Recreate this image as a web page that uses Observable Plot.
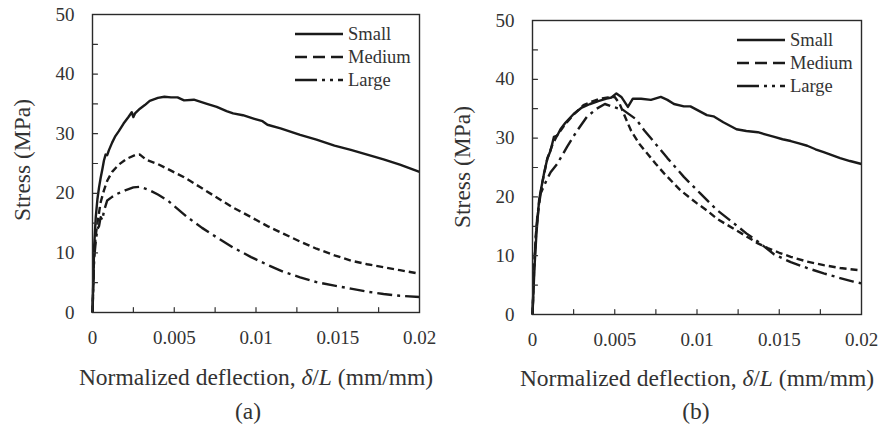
<!DOCTYPE html>
<html>
<head>
<meta charset="utf-8">
<script src="https://cdn.jsdelivr.net/npm/d3@7"></script>
<script src="https://cdn.jsdelivr.net/npm/@observablehq/plot@0.6"></script>
<style>
  html, body { margin: 0; padding: 0; background: #fff; }
  #wrap { position: relative; width: 879px; height: 428px; overflow: hidden; }
  #wrap > div { position: absolute; top: 0; }
  #wrap svg, #wrap svg text, #wrap svg tspan { font-family: "Liberation Serif", "Times New Roman", serif !important; }
</style>
</head>
<body>
<div id="wrap"><div id="pa"></div><div id="pb"></div></div>
<script>
// ---------- data ----------
const seriesNames = ["Small", "Medium", "Large"];
const xTicks = [0, 0.005, 0.01, 0.015, 0.02];
const xMinorTicks = [0.0025, 0.005, 0.0075, 0.01, 0.0125, 0.015, 0.0175];
const yTicks = [0, 10, 20, 30, 40, 50];
const yMinorTicks = [5, 10, 15, 20, 25, 30, 35, 40, 45];

// Panel (a)
const aSmallX = [0, 0.0001, 0.0002, 0.0003, 0.0004, 0.0005, 0.0006, 0.0007, 0.0008, 0.0009, 0.0010, 0.0012, 0.0014, 0.0016, 0.0019, 0.0022, 0.0024, 0.0025, 0.0026, 0.0029, 0.0032, 0.0035, 0.0040, 0.0044, 0.0048, 0.0052, 0.0056, 0.0062, 0.0070, 0.0076, 0.0082, 0.0086, 0.0092, 0.0099, 0.0104, 0.0107, 0.0115, 0.0127, 0.0137, 0.0148, 0.0158, 0.0168, 0.0178, 0.0188, 0.0200];
const aSmallY = [0, 11, 16, 19, 21, 22.6, 24, 25.5, 26.5, 26.4, 27.2, 28.5, 29.6, 30.4, 31.7, 32.8, 33.6, 32.8, 33.4, 34.2, 34.8, 35.5, 36.0, 36.2, 36.1, 36.1, 35.6, 35.7, 35.0, 34.5, 33.8, 33.4, 33.1, 32.5, 32.1, 31.5, 30.9, 29.8, 29.0, 28.0, 27.3, 26.5, 25.7, 24.8, 23.6];
const aMediumX = [0, 0.0001, 0.0002, 0.0003, 0.0005, 0.0007, 0.0009, 0.0012, 0.0016, 0.0021, 0.0026, 0.0029, 0.0033, 0.0040, 0.0048, 0.0056, 0.0066, 0.0076, 0.0086, 0.0097, 0.0107, 0.0117, 0.0127, 0.0137, 0.0148, 0.0158, 0.0168, 0.0178, 0.0188, 0.0200];
const aMediumY = [0, 10, 13, 15, 18.5, 20.5, 22.1, 23.6, 24.8, 25.8, 26.4, 26.5, 25.6, 24.9, 23.8, 22.7, 21.0, 19.3, 17.6, 16.0, 14.5, 13.2, 11.9, 10.7, 9.6, 8.7, 8.1, 7.6, 7.1, 6.5];
const aLargeX = [0, 0.0001, 0.0002, 0.0003, 0.0004, 0.0005, 0.0006, 0.0007, 0.0009, 0.0012, 0.0015, 0.0020, 0.0025, 0.0029, 0.0035, 0.0040, 0.0046, 0.0052, 0.0058, 0.0067, 0.0076, 0.0086, 0.0097, 0.0107, 0.0117, 0.0127, 0.0137, 0.0148, 0.0158, 0.0168, 0.0178, 0.0188, 0.0200];
const aLargeY = [0, 9, 12, 14, 14.5, 16, 15.5, 17, 18.8, 19.4, 19.9, 20.5, 21.0, 21.1, 20.5, 19.8, 18.8, 17.4, 16.0, 14.2, 12.6, 10.9, 9.3, 8.0, 6.8, 5.9, 5.1, 4.5, 4.0, 3.5, 3.1, 2.8, 2.6];

// Panel (b)
const bSmallX = [0, 0.00012, 0.00024, 0.0004, 0.0005, 0.0007, 0.0009, 0.0011, 0.0013, 0.0015, 0.0017, 0.0020, 0.0025, 0.0030, 0.0035, 0.0040, 0.0045, 0.0048, 0.0051, 0.0054, 0.0058, 0.0061, 0.0066, 0.0072, 0.0078, 0.0082, 0.0086, 0.0092, 0.0096, 0.0100, 0.0106, 0.0110, 0.0116, 0.0120, 0.0124, 0.0130, 0.0137, 0.0142, 0.0147, 0.0152, 0.0157, 0.0162, 0.0167, 0.0172, 0.0177, 0.0182, 0.0187, 0.0193, 0.0200];
const bSmallY = [0, 8, 13.8, 19.4, 21, 24, 26.5, 27.9, 30.2, 30.4, 31.5, 32.6, 34.1, 35.2, 35.8, 36.3, 36.7, 36.9, 37.6, 37.0, 35.3, 36.7, 36.7, 36.5, 37.0, 36.5, 35.8, 35.4, 35.4, 34.8, 33.9, 33.7, 32.7, 32.1, 31.5, 31.2, 31.0, 30.6, 30.2, 29.8, 29.5, 29.1, 28.7, 28.1, 27.6, 27.1, 26.6, 26.1, 25.6];
const bMediumX = [0, 0.0001, 0.0002, 0.0004, 0.0006, 0.0009, 0.0012, 0.0015, 0.0020, 0.0025, 0.0031, 0.0036, 0.0041, 0.0046, 0.0050, 0.0053, 0.0056, 0.0060, 0.0065, 0.0070, 0.0075, 0.0080, 0.0090, 0.0100, 0.0106, 0.0112, 0.0118, 0.0124, 0.0130, 0.0137, 0.0143, 0.0150, 0.0157, 0.0167, 0.0177, 0.0187, 0.0200];
const bMediumY = [0, 8, 13.5, 19, 22.5, 26.5, 28.8, 30.5, 32.4, 34.0, 35.6, 36.2, 36.7, 36.9, 37.0, 35.8, 33.8, 31.2, 29.0, 27.3, 25.6, 24.0, 21.1, 18.9, 17.7, 16.3, 15.3, 14.3, 13.3, 12.1, 11.3, 10.5, 9.8, 9.0, 8.4, 7.9, 7.5];
const bLargeX = [0, 0.0001, 0.0002, 0.0003, 0.0005, 0.0008, 0.0011, 0.0015, 0.0021, 0.0027, 0.0033, 0.0039, 0.0044, 0.0048, 0.0055, 0.0063, 0.0068, 0.0074, 0.0082, 0.0092, 0.0102, 0.0112, 0.0122, 0.0130, 0.0137, 0.0147, 0.0157, 0.0167, 0.0177, 0.0187, 0.0195, 0.0200];
const bLargeY = [0, 8, 13, 17, 20.6, 22.5, 24.2, 25.6, 28.5, 31.2, 33.6, 35.0, 35.8, 35.4, 34.8, 33.2, 31.3, 29.3, 26.6, 23.4, 20.6, 17.8, 15.6, 13.8, 12.4, 10.2, 8.9, 7.9, 7.0, 6.2, 5.6, 5.3];

// ---------- styling ----------
const INK = "#1a1a1a";
const TXT = "#333";
const FONT = "Liberation Serif";
const dashCurve = { Small: null, Medium: "7,4", Large: "15,5,3,5" };
const dashLegend = { Small: null, Medium: "12,6", Large: "22,5,3,5,3,5" };

function toRows(xs, ys, name) { return xs.map((x, i) => ({ x, y: ys[i], s: name })); }

const panels = [
  { el: "#pa", left: 0, width: 440, mL: 92, mR: 21, mT: 14, mB: 116, yPad: 18,
    label: "(a)", xTitleX: 256, xTitleY: 377, capX: 248, capY: 411, yTitleX: 22, yTitleY: 160,
    data: { Small: toRows(aSmallX, aSmallY, "Small"), Medium: toRows(aMediumX, aMediumY, "Medium"), Large: toRows(aLargeX, aLargeY, "Large") } },
  { el: "#pb", left: 440, width: 439, mL: 92, mR: 18, mT: 20, mB: 114, yPad: 18,
    label: "(b)", xTitleX: 257, xTitleY: 378, capX: 256, capY: 411, yTitleX: 22, yTitleY: 167,
    data: { Small: toRows(bSmallX, bSmallY, "Small"), Medium: toRows(bMediumX, bMediumY, "Medium"), Large: toRows(bLargeX, bLargeY, "Large") } }
];

for (const p of panels) {
  const holder = document.querySelector(p.el);
  holder.style.left = p.left + "px";
  const lineMarks = seriesNames.map(n => Plot.line(p.data[n], {
    x: "x", y: "y", stroke: INK, strokeWidth: 2.4,
    strokeDasharray: dashCurve[n], strokeLinejoin: "round", strokeLinecap: "butt"
  }));
  const chart = Plot.plot({
    width: p.width, height: 428,
    marginLeft: p.mL, marginRight: p.mR, marginTop: p.mT, marginBottom: p.mB,
    style: { fontFamily: FONT, fontSize: "19px", color: TXT, background: "#fff", overflow: "visible" },
    x: { domain: [0, 0.02], label: null },
    y: { domain: [0, 50], label: null },
    marks: [
      ...lineMarks,
      Plot.vector(yMinorTicks, { y: d => d, frameAnchor: "left", length: 5, rotate: 90, anchor: "start", shape: "spike", r: 0, stroke: TXT, strokeWidth: 1.2 }),
      Plot.vector(xMinorTicks, { x: d => d, frameAnchor: "bottom", length: 5, rotate: 0, anchor: "start", shape: "spike", r: 0, stroke: TXT, strokeWidth: 1.2 }),
      Plot.axisY({ ticks: yTicks, tickSize: 0, tickPadding: p.yPad, tickFormat: d => String(d), fill: TXT, label: null }),
      Plot.axisX({ ticks: xTicks, tickSize: 0, tickPadding: 18, tickFormat: d => String(d), fill: TXT, label: null }),
      Plot.frame({ stroke: "#2a2a2a", strokeWidth: 1.4 })
    ]
  });
  holder.appendChild(chart);

  const svg = d3.select(chart);
  const right = p.width - p.mR, top = p.mT;
  // legend
  const lg = svg.append("g").attr("font-family", FONT).attr("font-size", 18.5).attr("fill", TXT).attr("text-anchor", "start");
  seriesNames.forEach((n, i) => {
    const y = top + 20 + i * 23;
    lg.append("line").attr("x1", right - 124).attr("x2", right - 76).attr("y1", y).attr("y2", y)
      .attr("stroke", INK).attr("stroke-width", 2.4).attr("stroke-dasharray", dashLegend[n]);
    lg.append("text").attr("x", right - 71).attr("y", y).attr("dy", "0.35em").attr("text-anchor", "start").text(n);
  });
  // y title
  svg.append("text").attr("transform", `translate(${p.yTitleX},${p.yTitleY}) rotate(-90)`)
    .attr("text-anchor", "middle").attr("dy", "0.35em").attr("font-family", FONT)
    .attr("font-size", 23.5).attr("fill", TXT).text("Stress (MPa)");
  // x title
  const xt = svg.append("text").attr("x", p.xTitleX).attr("y", p.xTitleY).attr("dy", "0.35em")
    .attr("text-anchor", "middle").attr("font-family", FONT).attr("font-size", 23.5).attr("fill", TXT);
  xt.append("tspan").text("Normalized deflection, ");
  xt.append("tspan").attr("font-style", "italic").text("δ");
  xt.append("tspan").text("/");
  xt.append("tspan").attr("font-style", "italic").text("L");
  xt.append("tspan").text(" (mm/mm)");
  // panel caption
  svg.append("text").attr("x", p.capX).attr("y", p.capY).attr("dy", "0.35em")
    .attr("text-anchor", "middle").attr("font-family", FONT).attr("font-size", 23.5).attr("fill", TXT).text(p.label);
}
</script>
</body>
</html>
